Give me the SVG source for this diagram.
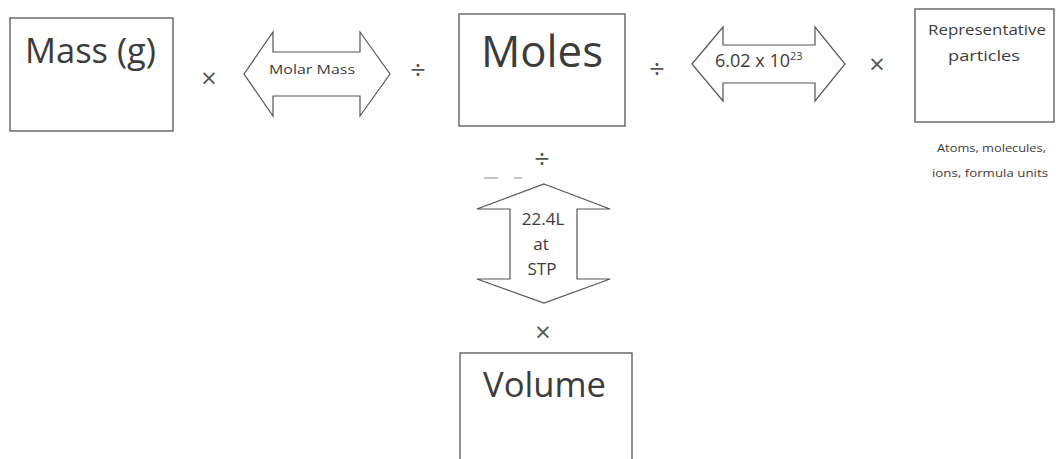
<svg xmlns="http://www.w3.org/2000/svg" width="1056" height="459" viewBox="0 0 1056 459">
<style>
.box{fill:#fff;stroke:#555;stroke-width:1.3}
.arr{fill:#fff;stroke:#555;stroke-width:1.2;stroke-linejoin:miter}
text{font-family:"Open Sans","Liberation Sans",sans-serif;fill:#3c3c3c}
.big{font-size:35px}
.op{font-size:27px;text-anchor:middle;fill:#555}
.mid{text-anchor:middle}
</style>
<rect width="1056" height="459" fill="#fff"/>
<g id="mass">
<rect class="box" x="10" y="18" width="163" height="113"/>
<text class="big" x="25" y="63" textLength="131" lengthAdjust="spacingAndGlyphs">Mass (g)</text>
</g>
<g id="moles">
<rect class="box" x="459" y="14" width="166" height="112"/>
<text x="481" y="67" font-size="43" textLength="122" lengthAdjust="spacingAndGlyphs">Moles</text>
</g>
<g id="particles">
<rect class="box" x="915" y="9" width="139" height="113"/>
<text x="928" y="35" font-size="14" textLength="118" lengthAdjust="spacingAndGlyphs">Representative</text>
<text x="948" y="61" font-size="14" textLength="72" lengthAdjust="spacingAndGlyphs">particles</text>
<text x="937" y="152" font-size="11" textLength="109" lengthAdjust="spacingAndGlyphs">Atoms, molecules,</text>
<text x="932" y="177" font-size="11" textLength="116" lengthAdjust="spacingAndGlyphs">ions, formula units</text>
</g>
<g id="volume">
<rect class="box" x="460" y="353" width="172" height="120"/>
<text class="big" x="483" y="397" textLength="123" lengthAdjust="spacingAndGlyphs">Volume</text>
</g>
<g id="connectors">
<g id="molar-mass">
<polygon class="arr" points="244,74 273,32 273,52 360,52 360,32 390,74 360,116 360,96 273,96 273,116"/>
<text x="269" y="74" font-size="13" textLength="86" lengthAdjust="spacingAndGlyphs">Molar Mass</text>
</g>
<g id="avogadro">
<polygon class="arr" points="692,64 723,27 723,45 815,45 815,27 845,64 815,101 815,83 723,83 723,101"/>
<text x="715" y="67" font-size="18">6.02 x 10<tspan font-size="11" dy="-7">23</tspan></text>
</g>
<g id="molar-volume">
<polygon class="arr" points="544,184 610,209 577,209 577,279 610,279 544,303 477,279 510,279 510,209 477,209"/>
<text class="mid" x="543" y="225" font-size="17">22.4L</text>
<text class="mid" x="541" y="250" font-size="17">at</text>
<text class="mid" x="542" y="275" font-size="17">STP</text>
</g>
<g id="operators">
<text class="op" x="209" y="88">×</text>
<text class="op" x="418" y="79">÷</text>
<text class="op" x="657" y="78">÷</text>
<text class="op" x="877" y="74">×</text>
<text class="op" x="542" y="168">÷</text>
<text class="op" x="543" y="342">×</text>
<line x1="484" y1="178" x2="498" y2="178" stroke="#888" stroke-width="1"/>
<line x1="514" y1="178" x2="522" y2="178" stroke="#888" stroke-width="1"/>
</g>
</g>
</svg>
